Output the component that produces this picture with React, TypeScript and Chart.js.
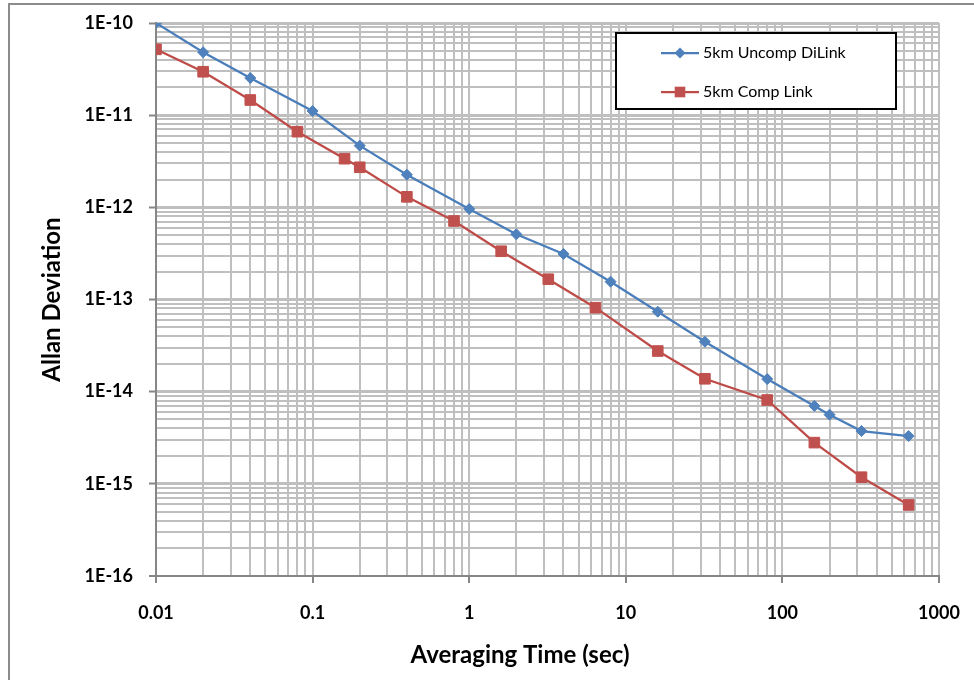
import React, { useEffect, useRef } from 'react';
import { Chart, registerables } from 'chart.js';

Chart.register(...registerables);

// ---- Data ----
const seriesNames = ['5km Uncomp DiLink', '5km Comp Link'];

const uncompTime = [0.01, 0.02, 0.04, 0.1, 0.2, 0.4, 1, 2, 4, 8, 16, 32, 80, 160, 200, 320, 640];
const uncompDev = [
  1.0e-10, 4.81e-11, 2.53e-11, 1.11e-11, 4.67e-12, 2.26e-12, 9.59e-13, 5.1e-13, 3.12e-13,
  1.56e-13, 7.37e-14, 3.48e-14, 1.37e-14, 7.0e-15, 5.63e-15, 3.74e-15, 3.3e-15,
];

const compTime = [0.01, 0.02, 0.04, 0.08, 0.16, 0.2, 0.4, 0.8, 1.6, 3.2, 6.4, 16, 32, 80, 160, 320, 640];
const compDev = [
  5.18e-11, 2.96e-11, 1.46e-11, 6.62e-12, 3.37e-12, 2.72e-12, 1.3e-12, 7.11e-13, 3.34e-13,
  1.66e-13, 8.15e-14, 2.76e-14, 1.38e-14, 8.12e-15, 2.8e-15, 1.18e-15, 5.9e-16,
];

const xDecades = [0.01, 0.1, 1, 10, 100, 1000];
const xTickLabels = ['0.01', '0.1', '1', '10', '100', '1000'];
const yDecades = [1e-16, 1e-15, 1e-14, 1e-13, 1e-12, 1e-11, 1e-10];
const yTickLabels = ['1E-16', '1E-15', '1E-14', '1E-13', '1E-12', '1E-11', '1E-10'];
const minorSteps = [2, 3, 4, 5, 6, 7, 8, 9];

const xTitle = 'Averaging Time (sec)';
const yTitle = 'Allan Deviation';

// ---- Styles ----
const FONT = 'Lato, "Open Sans", sans-serif';
const BLUE_LINE = '#4a7ebb';
const BLUE_MARK = '#4f81bd';
const RED_LINE = '#be4b48';
const RED_MARK = '#c0504d';
const GRID = '#bfbfbf';
const AXIS = '#868686';

function buildTicks(decades: number[]) {
  const ticks: { value: number; major: boolean }[] = [];
  decades.forEach((d, i) => {
    ticks.push({ value: d, major: true });
    if (i < decades.length - 1) {
      minorSteps.forEach((m) => ticks.push({ value: d * m, major: false }));
    }
  });
  return ticks;
}

const frameLegendPlugin = {
  id: 'frameLegend',
  beforeDraw(chart: any) {
    const ctx = chart.ctx;
    ctx.save();
    ctx.fillStyle = '#ffffff';
    ctx.fillRect(0, 0, chart.width, chart.height);
    ctx.strokeStyle = '#8c8c8c';
    ctx.lineWidth = 2;
    ctx.strokeRect(9, 4, chart.width + 20, chart.height + 20);
    ctx.restore();
  },
  afterDraw(chart: any) {
    const ctx = chart.ctx;
    ctx.save();
    // x-axis title (Excel centres it on the whole chart frame, not the plot)
    ctx.fillStyle = '#000000';
    ctx.font = `bold 24px ${FONT}`;
    ctx.textAlign = 'center';
    ctx.textBaseline = 'middle';
    ctx.fillText(xTitle, 520, 655);

    const bx = 616, by = 33, bw = 280, bh = 76;
    ctx.fillStyle = '#ffffff';
    ctx.fillRect(bx, by, bw, bh);
    ctx.strokeStyle = '#000000';
    ctx.lineWidth = 2;
    ctx.strokeRect(bx, by, bw, bh);
    const rows = [53, 92];
    chart.data.datasets.forEach((ds: any, i: number) => {
      const y = rows[i];
      ctx.strokeStyle = ds.borderColor;
      ctx.lineWidth = 2.25;
      ctx.beginPath();
      ctx.moveTo(661, y);
      ctx.lineTo(699, y);
      ctx.stroke();
      ctx.fillStyle = ds.pointBackgroundColor;
      ctx.beginPath();
      if (ds.pointStyle === 'rectRot') {
        const r = ds.pointRadius;
        ctx.moveTo(680 - r, y);
        ctx.lineTo(680, y - r);
        ctx.lineTo(680 + r, y);
        ctx.lineTo(680, y + r);
        ctx.closePath();
      } else {
        const s = ds.pointRadius * Math.SQRT1_2;
        ctx.rect(680 - s, y - s, 2 * s, 2 * s);
      }
      ctx.fill();
      ctx.fillStyle = '#000000';
      ctx.font = `16px ${FONT}`;
      ctx.textBaseline = 'middle';
      ctx.textAlign = 'left';
      ctx.fillText(ds.label, 703, y);
    });
    ctx.restore();
  },
};

export default function App() {
  const canvasRef = useRef<HTMLCanvasElement | null>(null);

  useEffect(() => {
    if (!canvasRef.current) return;
    const chart = new Chart(canvasRef.current, {
      type: 'line',
      data: {
        datasets: [
          {
            label: seriesNames[0],
            data: uncompTime.map((t, i) => ({ x: t, y: uncompDev[i] })),
            borderColor: BLUE_LINE,
            backgroundColor: BLUE_MARK,
            pointBackgroundColor: BLUE_MARK,
            pointBorderColor: BLUE_MARK,
            pointBorderWidth: 1,
            borderWidth: 2.25,
            pointStyle: 'rectRot',
            pointRadius: 5.5,
            tension: 0,
          },
          {
            label: seriesNames[1],
            data: compTime.map((t, i) => ({ x: t, y: compDev[i] })),
            borderColor: RED_LINE,
            backgroundColor: RED_MARK,
            pointBackgroundColor: RED_MARK,
            pointBorderColor: RED_MARK,
            pointBorderWidth: 1,
            borderWidth: 2.25,
            pointStyle: 'rect',
            pointRadius: 7.5,
            tension: 0,
          },
        ] as any,
      },
      options: {
        responsive: false,
        animation: false,
        devicePixelRatio: 1,
        layout: { padding: { left: 0, top: 23, right: 35, bottom: 0 } },
        plugins: {
          legend: { display: false },
          tooltip: { enabled: false },
        },
        scales: {
          x: {
            type: 'logarithmic',
            min: 0.01,
            max: 1000,
            afterBuildTicks: (scale: any) => {
              scale.ticks = buildTicks(xDecades);
            },
            afterFit: (scale: any) => {
              scale.height = 104;
              scale.paddingLeft = 0;
              scale.paddingRight = 0;
            },
            grid: {
              color: (c: any) => (c.tick && c.tick.value === xDecades[0] ? AXIS : GRID),
              lineWidth: 2,
              tickLength: 7,
              tickWidth: 2,
              tickColor: (c: any) => (c.tick && c.tick.major ? AXIS : 'rgba(0,0,0,0)'),
            },
            border: { display: true, color: AXIS, width: 2 },
            ticks: {
              autoSkip: false,
              maxRotation: 0,
              padding: 19,
              color: '#000',
              font: { family: FONT, size: 18, weight: 'bold' },
              callback: (value: any) => {
                const k = xDecades.indexOf(Number(value));
                return k >= 0 ? xTickLabels[k] : '';
              },
            },
            title: { display: false, text: xTitle },
          },
          y: {
            type: 'logarithmic',
            min: 1e-16,
            max: 1e-10,
            afterBuildTicks: (scale: any) => {
              scale.ticks = buildTicks(yDecades);
            },
            afterFit: (scale: any) => {
              scale.width = 156;
              scale.paddingTop = 0;
              scale.paddingBottom = 0;
            },
            grid: {
              color: (c: any) => (c.tick && c.tick.value === yDecades[0] ? AXIS : GRID),
              lineWidth: (c: any) => (c.tick && c.tick.major && c.tick.value !== yDecades[0] ? 3 : 2),
              tickLength: 7,
              tickWidth: 2,
              tickColor: (c: any) => (c.tick && c.tick.major ? AXIS : 'rgba(0,0,0,0)'),
            },
            border: { display: true, color: AXIS, width: 2 },
            ticks: {
              autoSkip: false,
              padding: 16,
              color: '#000',
              font: { family: FONT, size: 18, weight: 'bold' },
              callback: (value: any) => {
                const k = yDecades.indexOf(Number(value));
                return k >= 0 ? yTickLabels[k] : '';
              },
            },
            title: {
              display: true,
              text: yTitle,
              color: '#000',
              font: { family: FONT, size: 24, weight: 'bold' },
              padding: { top: 38, bottom: 0 },
            },
          },
        },
      } as any,
      plugins: [frameLegendPlugin],
    });
    return () => chart.destroy();
  }, []);

  return (
    <div style={{ position: 'absolute', left: 0, top: 0, width: 974, height: 680 }}>
      <canvas ref={canvasRef} width={974} height={680} style={{ display: 'block' }} />
    </div>
  );
}
